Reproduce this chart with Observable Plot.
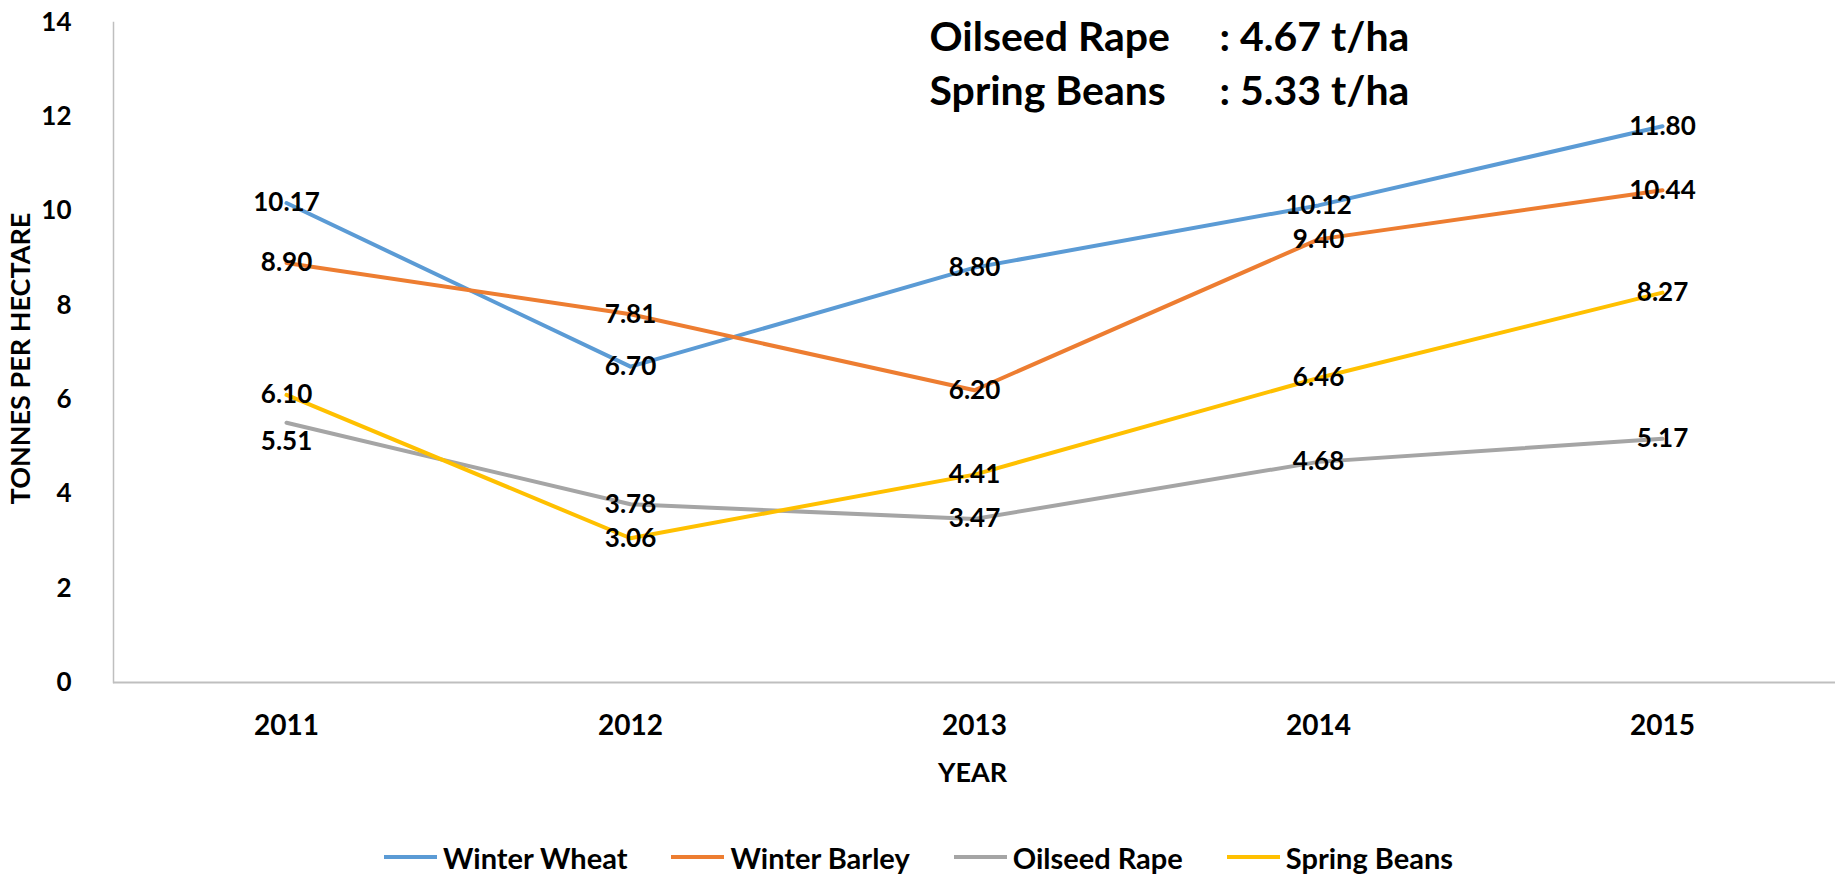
<!DOCTYPE html>
<html>
<head>
<meta charset="utf-8">
<script src="https://cdn.jsdelivr.net/npm/d3@7"></script>
<script src="https://cdn.jsdelivr.net/npm/@observablehq/plot@0.6"></script>
<style>
  html, body { margin: 0; padding: 0; background: #fff; }
  body { width: 1837px; height: 874px; overflow: hidden; font-family: Lato, "Open Sans", sans-serif; }
  #chart svg text { white-space: pre; }
  #legend { display: flex; justify-content: center; align-items: center; gap: 44px; margin-top: 44px; height: 26px; font-size: 29px; font-weight: 700; color: #000; }
  .item { display: flex; align-items: center; gap: 6px; }
  .swatch { width: 53px; height: 4px; }
</style>
</head>
<body>
<div id="chart"></div>
<div id="legend"></div>
<script>
const years = ["2011", "2012", "2013", "2014", "2015"];
const seriesNames = ["Winter Wheat", "Winter Barley", "Oilseed Rape", "Spring Beans"];
const winterWheat = [10.17, 6.70, 8.80, 10.12, 11.80];
const winterBarley = [8.90, 7.81, 6.20, 9.40, 10.44];
const oilseedRape = [5.51, 3.78, 3.47, 4.68, 5.17];
const springBeans = [6.10, 3.06, 4.41, 6.46, 8.27];
const seriesColors = ["#5B9BD5", "#ED7D31", "#A5A5A5", "#FFC000"];
const yTicks = [0, 2, 4, 6, 8, 10, 12, 14];
const annotationNames = ["Oilseed Rape", "Spring Beans"];
const annotationValues = [": 4.67 t/ha", ": 5.33 t/ha"];
const labelsBelow = [["Oilseed Rape", "2011"]];

const seriesValues = [winterWheat, winterBarley, oilseedRape, springBeans];
const rows = [];
seriesNames.forEach((s, i) => years.forEach((yr, j) => rows.push({series: s, year: yr, value: seriesValues[i][j]})));
const isBelow = d => labelsBelow.some(([s, y]) => s === d.series && y === d.year);

const annotationMarks = [];
annotationNames.forEach((name, i) => {
  const common = {frameAnchor: "top-left", textAnchor: "start", lineAnchor: "middle", dy: 15 + i * 54, fontSize: 41, fontWeight: "bold", fill: "#000"};
  annotationMarks.push(Plot.text([name], {...common, dx: 816}));
  annotationMarks.push(Plot.text([annotationValues[i]], {...common, dx: 1106}));
});

const font = "Lato, 'Open Sans', sans-serif";
const chart = Plot.plot({
  width: 1837,
  height: 800,
  marginTop: 22,
  marginBottom: 118,
  marginLeft: 113,
  marginRight: 2,
  style: {fontFamily: font, background: "#fff", color: "#000"},
  x: {type: "point", domain: years, padding: 0.5},
  y: {domain: [0, 14]},
  color: {domain: seriesNames, range: seriesColors},
  marks: [
    Plot.frame({anchor: "left", stroke: "#BFBFBF", strokeWidth: 1.5}),
    Plot.ruleY([0], {stroke: "#BFBFBF", strokeWidth: 2}),
    Plot.axisY(yTicks, {tickSize: 0, tickPadding: 42, fontSize: 26, fontWeight: "bold", fill: "#000", label: null}),
    Plot.axisX({tickSize: 0, tickPadding: 33, fontSize: 28, fontWeight: "bold", fill: "#000", label: null}),
    Plot.text(["YEAR"], {frameAnchor: "bottom", lineAnchor: "middle", textAnchor: "middle", dx: -2, dy: 91, fontSize: 27, fontWeight: "bold", fill: "#000"}),
    Plot.text(["TONNES PER HECTARE"], {frameAnchor: "left", textAnchor: "middle", lineAnchor: "middle", dx: -92, dy: 6, rotate: -90, fontSize: 27, fontWeight: "bold", fill: "#000"}),
    Plot.lineY(rows, {x: "year", y: "value", stroke: "series", z: "series", strokeWidth: 4}),
    Plot.text(rows.filter(d => !isBelow(d)), {x: "year", y: "value", text: d => d.value.toFixed(2), fontSize: 26, fontWeight: "bold", fill: "#000"}),
    Plot.text(rows.filter(isBelow), {x: "year", y: "value", text: d => d.value.toFixed(2), dy: 19, fontSize: 26, fontWeight: "bold", fill: "#000"}),
    ...annotationMarks
  ]
});
document.getElementById("chart").appendChild(chart);

const legend = d3.select("#legend");
seriesNames.forEach((name, i) => {
  const item = legend.append("div").attr("class", "item");
  item.append("div").attr("class", "swatch").style("background", seriesColors[i]);
  item.append("span").text(name);
});
</script>
</body>
</html>
